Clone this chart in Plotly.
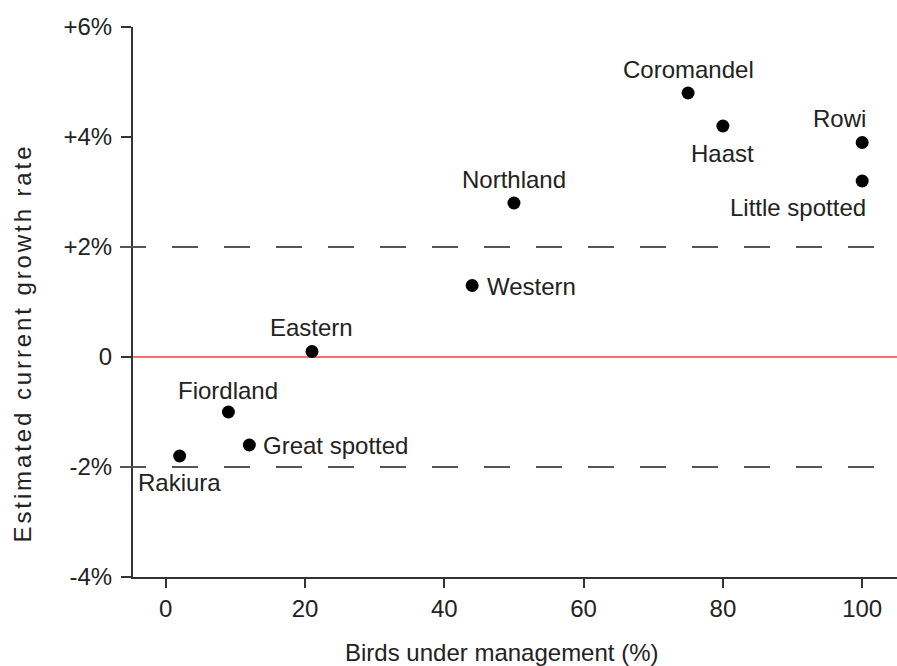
import plotly.graph_objects as go

# Data
regions = ["Rakiura", "Fiordland", "Great spotted", "Eastern", "Western",
           "Northland", "Coromandel", "Haast", "Rowi", "Little spotted"]
managed_pct = [2, 9, 12, 21, 44, 50, 75, 80, 100, 100]
growth_pct = [-1.8, -1.0, -1.6, 0.1, 1.3, 2.8, 4.8, 4.2, 3.9, 3.2]

x_ticks = [0, 20, 40, 60, 80, 100]
y_ticks = [-4, -2, 0, 2, 4, 6]
y_tick_labels = ["-4%", "-2%", "0", "+2%", "+4%", "+6%"]
threshold_lines = [2, -2]

Y_RANGE = [-4, 6]

# label placement (style): xanchor, xshift, yshift
label_pos = {
    "Rakiura": ("center", 0, -26),
    "Fiordland": ("center", 0, 22),
    "Great spotted": ("left", 12, 0),
    "Eastern": ("center", 0, 24),
    "Western": ("left", 13, -1),
    "Northland": ("center", 0, 24),
    "Coromandel": ("center", 0, 24),
    "Haast": ("center", 0, -27),
    "Rowi": ("right", 6, 24),
    "Little spotted": ("right", 6, -26),
}

FONT = "Liberation Sans, Arial, Helvetica, sans-serif"
TXT = "#222222"
AX = "#333333"
FS = 24

fig = go.Figure()

# reference lines (paper coords so they can extend through the left axis)
for yv in threshold_lines:
    yp = (yv - Y_RANGE[0]) / (Y_RANGE[1] - Y_RANGE[0])
    fig.add_shape(type="line", xref="paper", yref="paper", x0=-0.017, x1=1.0,
                  y0=yp, y1=yp, line=dict(color="#555555", width=2, dash="26px,26px"),
                  layer="above")
fig.add_shape(type="line", xref="paper", yref="y", x0=0, x1=1.0, y0=0, y1=0,
              line=dict(color="#ff3b3b", width=1.5), layer="below")

fig.add_trace(go.Scatter(
    x=managed_pct, y=growth_pct, mode="markers",
    marker=dict(color="black", size=13, line=dict(width=0)),
    hoverinfo="text", text=regions, showlegend=False,
))

for name, xv, yv in zip(regions, managed_pct, growth_pct):
    anc, xs, ys = label_pos[name]
    fig.add_annotation(x=xv, y=yv, xref="x", yref="y", text=name,
                       showarrow=False, xanchor=anc, yanchor="middle",
                       xshift=xs, yshift=ys,
                       font=dict(family=FONT, size=FS, color=TXT))

fig.add_annotation(text="Birds under management (%)", xref="paper", yref="paper",
                   x=0.4817, y=-0.137, showarrow=False, xanchor="center", yanchor="middle",
                   font=dict(family=FONT, size=FS, color=TXT))
fig.add_annotation(text='<span style="letter-spacing:2.9px">Estimated current growth rate</span>',
                   xref="paper", yref="paper",
                   x=-0.1446, y=0.4255, showarrow=False, xanchor="center", yanchor="middle",
                   textangle=-90, font=dict(family=FONT, size=FS, color=TXT))

fig.update_layout(
    width=897, height=666,
    margin=dict(l=133, r=0, t=27, b=89),
    plot_bgcolor="white", paper_bgcolor="white",
    font=dict(family=FONT, size=FS, color=TXT),
    xaxis=dict(range=[-4.7, 105], tickvals=x_ticks, showgrid=False, zeroline=False,
               showline=True, linecolor=AX, linewidth=2, ticks="outside",
               ticklen=9, tickwidth=2, tickcolor=AX, ticklabelstandoff=0),
    yaxis=dict(range=Y_RANGE, tickvals=y_ticks, ticktext=y_tick_labels,
               showgrid=False, zeroline=False, showline=True, linecolor=AX,
               linewidth=2, ticks="outside", ticklen=10, tickwidth=2,
               tickcolor=AX, ticklabelstandoff=4),
)

fig.write_html("out.html", config={"displayModeBar": False},
               post_script="document.body.style.margin='0';document.body.style.overflow='hidden';")
